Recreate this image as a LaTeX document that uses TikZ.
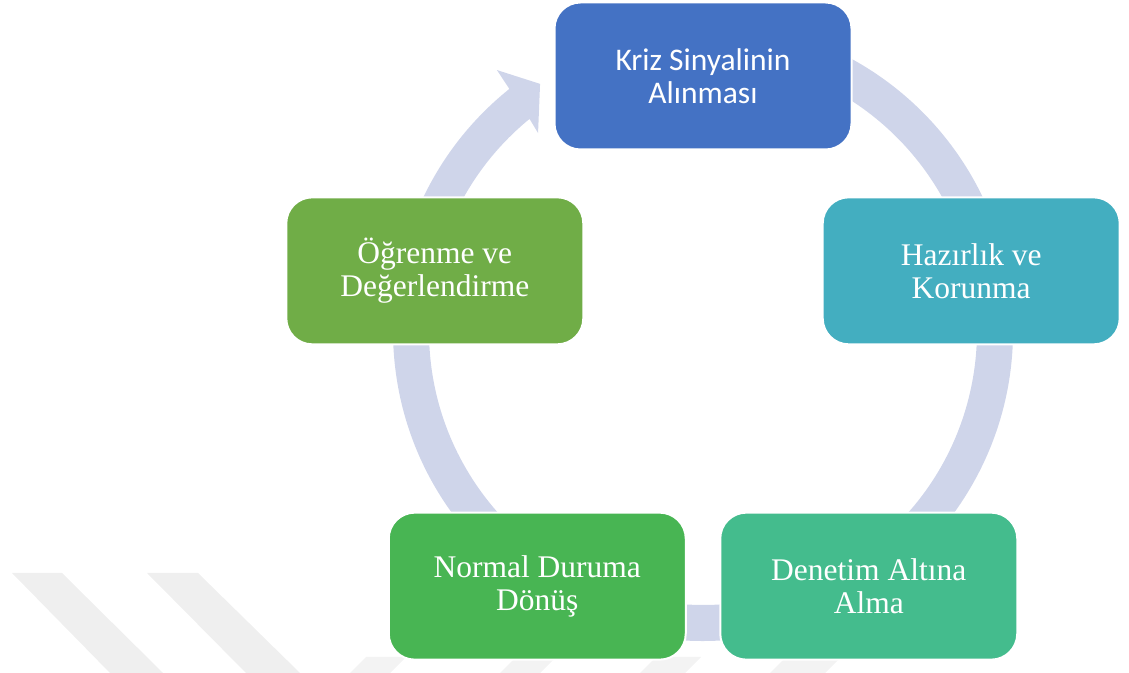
\documentclass[tikz,border=0pt]{standalone}
\usepackage{fontspec}
\setmainfont{Liberation Serif}
\newfontfamily\calibrifont{Carlito}
\definecolor{ringblue}{HTML}{CFD5EA}
\definecolor{krizblue}{HTML}{4472C4}
\definecolor{hazirteal}{HTML}{43AEC0}
\definecolor{denetimgreen}{HTML}{44BC8D}
\definecolor{normalgreen}{HTML}{48B553}
\definecolor{ogrengreen}{HTML}{70AD47}
\definecolor{markgray}{HTML}{EFEFEF}
\definecolor{stubgray}{HTML}{F3F3F3}
\begin{document}
\begin{tikzpicture}[
  x = 0.5pt, y = 0.5pt,
  stage/.style={draw=white, line width=1pt, rounded corners=13pt,
    minimum width=148.5pt, minimum height=73.5pt, align=center, text=white,
    font=\fontsize{15.75}{16.5}\selectfont}]
\useasboundingbox (0,0) rectangle (1129,673);
% watermark stripes
\fill[markgray] (12,100) -- (62,100) -- (163,0) -- (110,0) -- cycle;
\fill[markgray] (147,100) -- (198,100) -- (300,0) -- (246,0) -- cycle;
\foreach \sx/\sw in {350/40, 500/40, 640/45, 770/55}
  \fill[stubgray] (\sx,0) -- ++(\sw,0) -- ++(16,16) -- ++(-\sw,0) -- cycle;
% cycle arrow
\coordinate (hub) at (703,342);
\fill[ringblue, shift={(hub)}] (95:310)
  arc[start angle=95, end angle=-231.34, radius=310]
  -- (-231.7:332.5) -- (-236.6:296) -- (-230.2:257.7) -- (-230.72:274)
  arc[start angle=-230.72, end angle=95, radius=274] -- cycle;
% stages
\coordinate (mid) at (703,315);
\node[stage, fill=krizblue, font=\calibrifont\fontsize{15.75}{16.5}\selectfont]
  (kriz) at ([shift={(90:282)}]mid) {Kriz Sinyalinin\\Alınması};
\node[stage, fill=hazirteal] (hazir) at ([shift={(18:282)}]mid) {Hazırlık ve\\Korunma};
\node[stage, fill=denetimgreen] (denetim) at ([shift={(-54:282)}]mid) {Denetim Altına\\Alma};
\node[stage, fill=normalgreen] (normal) at ([shift={(-126:282)}]mid) {Normal Duruma\\Dönüş};
\node[stage, fill=ogrengreen] (ogren) at ([shift={(162:282)}]mid) {Öğrenme ve\\Değerlendirme};
\end{tikzpicture}
\end{document}
